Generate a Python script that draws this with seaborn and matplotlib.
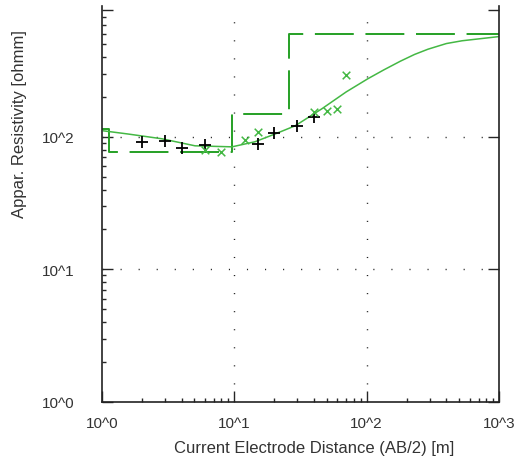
import numpy as np
import pandas as pd
import matplotlib
matplotlib.use("Agg")
import matplotlib.pyplot as plt
import seaborn as sns

sns.set_style("ticks")
plt.rcParams['font.family'] = ['Liberation Sans', 'DejaVu Sans']

# layered model (step line)
model_ab2 = [1.0, 1.13, 9.6, 26.0, 1000.0]
model_rho = [115, 77, 149, 600, 600]

# calculated apparent resistivity curve
curve_ab2 = [1.02, 1.57, 2.84, 5.05, 9.6, 14.3, 20.3, 28.8, 46, 70, 102, 135, 180, 230, 291, 400, 526, 984]
curve_rho = [111, 105, 96.6, 85.5, 84, 91.7, 105, 121, 163, 218, 274, 320, 372, 418, 458, 505, 530, 569]

# measured points, first set (black +)
meas1_ab2 = [2, 3, 4, 6, 15, 20, 30, 40]
meas1_rho = [92, 93, 83, 86, 88.6, 107, 121, 141]

# measured points, second set (green x)
meas2_ab2 = [6, 8, 12, 15, 40, 50, 60, 70]
meas2_rho = [80, 77, 94, 108, 154, 156, 161, 290]

green_dark = "#25a025"
green_light = "#44b844"

fig = plt.figure(figsize=(5.15, 4.64), dpi=100)
ax = fig.add_axes([0.198, 0.1315, 0.771, 0.8535])
ax.set_xscale("log")
ax.set_yscale("log")

# dotted grid at the decades
for v in [10, 100]:
    ax.axvline(v, color="#222222", lw=1.0, dashes=(0.8, 12.2), zorder=0)
    ax.axhline(v, color="#222222", lw=1.0, dashes=(0.8, 12.2), zorder=0)

sns.lineplot(x=model_ab2, y=model_rho, ax=ax, color=green_dark, lw=1.4,
             drawstyle="steps-post", linestyle=(0, (20, 6)),
             estimator=None, sort=False)
sns.lineplot(x=curve_ab2, y=curve_rho, ax=ax, color=green_light, lw=1.1,
             estimator=None, sort=False)
sns.scatterplot(x=meas1_ab2, y=meas1_rho, ax=ax, marker="+", s=70,
                color="black", linewidth=1.3, zorder=5)
sns.scatterplot(x=meas2_ab2, y=meas2_rho, ax=ax, marker="x", s=30,
                color=green_light, linewidth=1.1, zorder=5)

ax.set_xlim(1, 1000)
ax.set_ylim(1, 970)

ax.set_xticks([1, 10, 100, 1000])
ax.set_xticklabels(["10^0", "10^1", "10^2", "10^3"])
ax.set_yticks([1, 10, 100, 900])
ax.set_yticklabels(["10^0", "10^1", "10^2", ""])

ax.spines["top"].set_visible(False)
for s in ["left", "bottom", "right"]:
    ax.spines[s].set_color("#222222")
    ax.spines[s].set_linewidth(1.2)

ax.tick_params(axis="both", which="major", direction="in", length=8,
               width=1.0, labelsize=11, labelcolor="#333333")
ax.tick_params(axis="y", which="major", pad=19.5, right=True)
ax.tick_params(axis="x", which="major", pad=10)
ax.tick_params(axis="both", which="minor", direction="in", length=3, width=1.0)
ax.tick_params(axis="y", which="minor", right=False)
ax.tick_params(axis="x", which="both", top=False)

ax.set_xlabel("Current Electrode Distance (AB/2) [m]", fontsize=12,
              color="#333333")
ax.set_ylabel("Appar. Resistivity [ohmm]", fontsize=12, color="#333333")
ax.xaxis.set_label_coords(0.534, -0.114)
ax.yaxis.set_label_coords(-0.208, 0.705)
ax.xaxis.label.set_va("center")
ax.yaxis.label.set_va("center")

fig.savefig("out.png", dpi=100)
